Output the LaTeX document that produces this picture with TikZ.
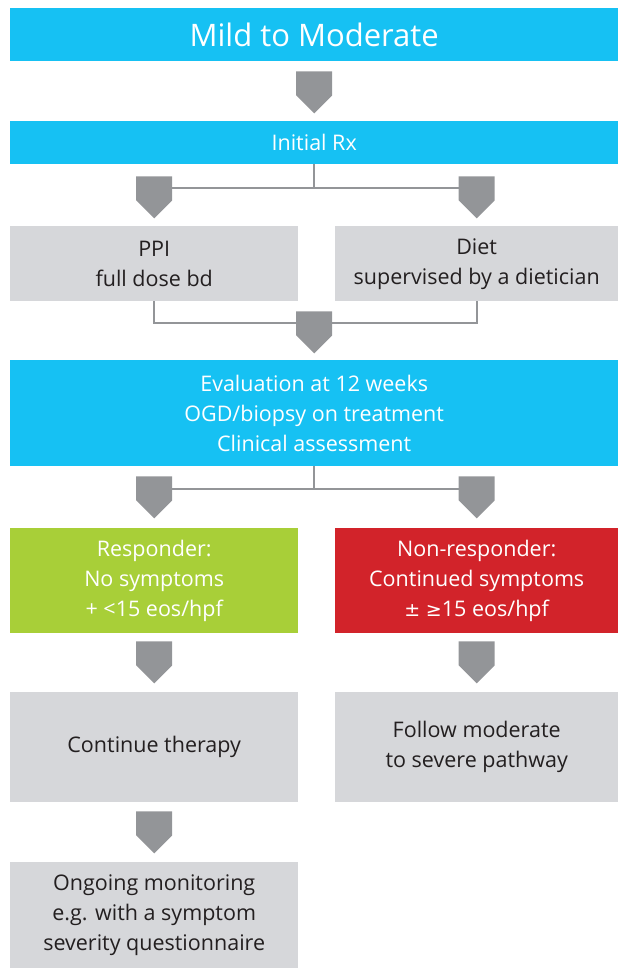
\documentclass[tikz,border=0pt]{standalone}
\usepackage{fontspec}
\setmainfont{Open Sans}
\newfontfamily\symfont{DejaVu Sans}
\definecolor{cyanbar}{HTML}{16C1F3}
\definecolor{greybox}{HTML}{D6D7DA}
\definecolor{arrowgray}{HTML}{939598}
\definecolor{greenbox}{HTML}{A8CF38}
\definecolor{redbox}{HTML}{D2232A}
\definecolor{darktext}{HTML}{231F20}
\begin{document}
\begin{tikzpicture}[x=1pt,y=-1pt,
  box/.style={rectangle, inner sep=0pt, anchor=north west, align=center,
    font=\fontsize{21.5}{30}\selectfont},
  hdr/.style={box, fill=cyanbar, text=white},
  greyb/.style={box, fill=greybox, text=darktext},
  greenb/.style={box, fill=greenbox, text=white},
  redb/.style={box, fill=redbox, text=white},
  wide/.style={minimum width=608pt},
  half/.style={minimum width=288pt},
  halfr/.style={minimum width=283pt},
  chev/.pic={\fill[arrowgray] (-18,0) -- (18,0) -- (18,24) -- (0,42) -- (-18,24) -- cycle;},
  conn/.style={draw=arrowgray, line width=2pt}]
\useasboundingbox (0,0) rectangle (618,968);

% boxes
\node[hdr, wide, minimum height=53pt, font=\fontsize{31}{36}\selectfont] (mild) at (10,8) {Mild to Moderate};
\node[hdr, wide, minimum height=43pt] (initial) at (10,121) {Initial Rx};
\node[greyb, half, minimum height=75pt] (ppi) at (10,226) {PPI\\full dose bd};
\node[greyb, halfr, minimum height=75pt] (diet) at (335,226) {Diet\\supervised by a dietician};
\node[hdr, wide, minimum height=106pt] (eval) at (10,360) {Evaluation at 12 weeks\\OGD/biopsy on treatment\\Clinical assessment};
\node[greenb, half, minimum height=105pt] (resp) at (10,528) {Responder:\\No symptoms\\+ <15 eos/hpf};
\node[redb, halfr, minimum height=105pt] (nonresp) at (335,528) {Non-responder:\\Continued symptoms\\{\symfont\fontsize{19}{30}\selectfont ±} {\symfont\fontsize{19}{30}\selectfont ≥}15 eos/hpf};
\node[greyb, half, minimum height=110pt] (cont) at (10,692) {Continue therapy};
\node[greyb, halfr, minimum height=110pt] (follow) at (335,692) {Follow moderate\\to severe pathway};
\node[greyb, half, minimum height=106pt] (ongoing) at (10,862) {Ongoing monitoring\\e.g. with a symptom\\severity questionnaire};

% connector lines
\path (initial.south) ++(0,24) coordinate (j1);
\draw[conn] (initial.south) -- (j1);
\draw[conn] (j1 -| ppi.south) -- (j1 -| diet.south);
\draw[conn] (ppi.south) -- ++(0,22) -| (diet.south);
\path (eval.south) ++(0,23) coordinate (j2);
\draw[conn] (eval.south) -- (j2);
\draw[conn] (j2 -| resp.south) -- (j2 -| nonresp.south);

% chevrons
\path (mild.south) ++(0,10) pic {chev};
\path (j1 -| ppi.south) ++(0,-12) pic {chev};
\path (j1 -| diet.south) ++(0,-12) pic {chev};
\path (ppi.south -| eval.north) ++(0,10) pic {chev};
\path (j2 -| resp.north) ++(0,-13) pic {chev};
\path (j2 -| nonresp.north) ++(0,-13) pic {chev};
\path (resp.south) ++(0,8) pic {chev};
\path (nonresp.south) ++(0,8) pic {chev};
\path (cont.south) ++(0,9) pic {chev};
\end{tikzpicture}
\end{document}
